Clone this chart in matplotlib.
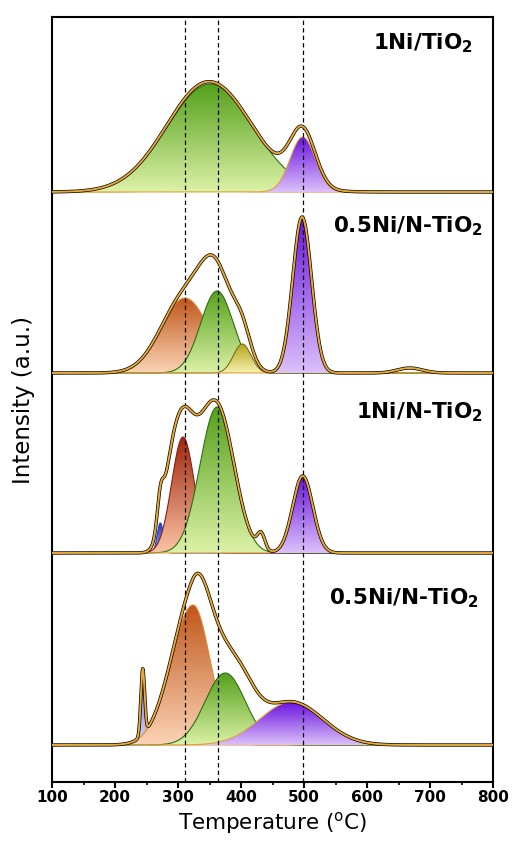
#!/usr/bin/env python3
"""
TPR profiles with peak deconvolution, four stacked samples.
"""

import numpy as np
import matplotlib
matplotlib.use('Agg')
import matplotlib.pyplot as plt
from matplotlib.colors import LinearSegmentedColormap
from matplotlib.patches import PathPatch
from matplotlib.path import Path

# sample labels, top to bottom
labels = ['1Ni/TiO$_{\\mathbf{2}}$', '0.5Ni/N-TiO$_{\\mathbf{2}}$',
          '1Ni/N-TiO$_{\\mathbf{2}}$', '0.5Ni/N-TiO$_{\\mathbf{2}}$']

# fitted components per sample: centre (C), height, left/right width
p1_centers = [320, 351, 498]
p1_heights = [3, 108, 55]
p1_sig_l = [45, 68, 20]
p1_sig_r = [45, 68, 20]
p1_colors = ['orange', 'green', 'purple']

p2_centers = [311, 362, 402, 497]
p2_heights = [75, 82, 29, 156]
p2_sig_l = [38, 26, 14, 15]
p2_sig_r = [38, 26, 14, 15]
p2_colors = ['orange', 'green', 'yellow', 'purple']

p3_centers = [272, 308, 362, 498]
p3_heights = [30, 116, 146, 77]
p3_sig_l = [5, 18, 27, 16]
p3_sig_r = [5, 18, 27, 16]
p3_colors = ['blue', 'red', 'green', 'purple']

p4_centers = [244, 324, 375, 480]
p4_heights = [66, 140, 72, 43]
p4_sig_l = [3, 35, 32, 50]
p4_sig_r = [3, 27, 32, 50]
p4_colors = ['lilac', 'orange', 'green', 'purple']

# parts of the measured signal not covered by the fitted peaks: centre, height, width
p1_resid = []
p2_resid = [(668, 5, 20)]
p3_resid = [(286, 38, 13), (340, 14, 14), (432, 16, 6)]
p4_resid = [(335, 8, 15), (405, 14, 22)]

# dashed reference temperatures
ref_temps = [311, 364, 498]

# vertical offset of each profile (axis units)
offsets = [590, 409, 229, 37]

palette = {
    'green': ('#55a01c', '#dcf2a6', '#2f6e16'),
    'purple': ('#6a14e0', '#dcc0fa', '#e0a040'),
    'orange': ('#c0561a', '#fbd4b6', '#e08a3a'),
    'yellow': ('#b4a41c', '#f6f2b0', '#7a7010'),
    'red': ('#a0260e', '#fbc4a4', '#8a2010'),
    'blue': ('#1e3cc0', '#a8b6f2', '#1e3cc0'),
    'lilac': ('#7e7ee0', '#d4d4fa', '#e0a040'),
}


def peak(x, c, h, sl, sr):
    s = np.where(x < c, sl, sr)
    return h * np.exp(-(x - c) ** 2 / (2.0 * s ** 2))


def grad_fill(ax, x, y, base, name, z):
    c_top, c_bot, edge = palette[name]
    verts = np.column_stack([np.r_[x, x[::-1]],
                             np.r_[base + y, np.full_like(x, base)]])
    patch = PathPatch(Path(verts), facecolor='none', edgecolor='none')
    ax.add_patch(patch)
    cmap = LinearSegmentedColormap.from_list(name, [c_bot, c_top])
    grad = np.linspace(0, 1, 256).reshape(-1, 1)
    im = ax.imshow(grad, cmap=cmap, origin='lower', aspect='auto',
                   extent=[x.min(), x.max(), base, base + y.max()], zorder=z)
    im.set_clip_path(patch)
    ax.plot(x, base + y, color=edge, lw=0.8, zorder=z + 0.1)


panels = [
    (p1_centers, p1_heights, p1_sig_l, p1_sig_r, p1_colors, p1_resid),
    (p2_centers, p2_heights, p2_sig_l, p2_sig_r, p2_colors, p2_resid),
    (p3_centers, p3_heights, p3_sig_l, p3_sig_r, p3_colors, p3_resid),
    (p4_centers, p4_heights, p4_sig_l, p4_sig_r, p4_colors, p4_resid),
]
label_pos = [(768, 739), (784, 556), (784, 370), (777, 184)]

fig = plt.figure(figsize=(5.12, 8.41), dpi=100)
ax = fig.add_axes([52 / 512, 59 / 841, 441 / 512, 765 / 841])

x = np.linspace(100, 800, 1401)
for i, (cen, hts, sl, sr, cols, resid) in enumerate(panels):
    base = offsets[i]
    total = np.zeros_like(x)
    for k in range(len(cen)):
        y = peak(x, cen[k], hts[k], sl[k], sr[k])
        total += y
        grad_fill(ax, x, y, base, cols[k], 2 + k * 0.2)
    for c, h, s in resid:
        total += peak(x, c, h, s, s)
    ax.plot(x, base + total, color='black', lw=2.4, zorder=6)
    ax.plot(x, base + total, color='#e8a838', lw=1.4, zorder=7)
    tx, ty = label_pos[i]
    ax.text(tx, ty, labels[i], ha='right', va='center', fontsize=15.5,
            fontweight='bold')

for t in ref_temps:
    ax.axvline(t, color='black', ls=(0, (3.5, 2.5)), lw=0.9, zorder=5)

ax.set_xlim(100, 800)
ax.set_ylim(0, 765)
ax.set_xticks(range(100, 801, 100))
ax.set_xticks(range(150, 800, 100), minor=True)
ax.set_yticks([])
ax.tick_params(axis='x', which='major', length=4, width=1.5, direction='out',
               labelsize=11, pad=2)
ax.tick_params(axis='x', which='minor', length=2.5, width=1.2, direction='out')
for lbl in ax.get_xticklabels():
    lbl.set_fontweight('bold')
for sp in ax.spines.values():
    sp.set_linewidth(1.5)

ax.set_xlabel('Temperature ($^{\\mathrm{o}}$C)', fontsize=15.5, labelpad=3)
ax.set_ylabel('Intensity (a.u.)', fontsize=16.5, labelpad=12)

plt.savefig('out.png', dpi=100)
plt.close()
